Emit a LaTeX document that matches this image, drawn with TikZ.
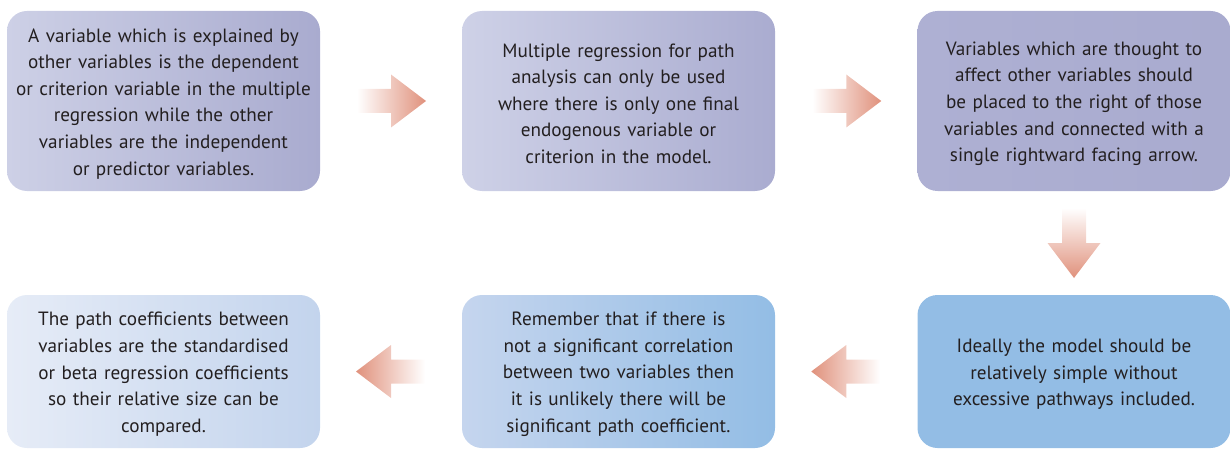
\documentclass[tikz,border=0pt]{standalone}
\usepackage{fontspec}
\setmainfont{PT Sans}
\usetikzlibrary{calc}
\definecolor{txt}{HTML}{231F20}
\definecolor{arr}{HTML}{E0917C}
\definecolor{arrlight}{HTML}{FFFFFF}
\tikzset{
  card/.style={rounded corners=20pt, minimum width=313pt, align=center,
    text width=305pt, text=txt, inner sep=0pt,
    font=\fontsize{19.2}{26.6}\selectfont,
    execute at begin node={\rule{0pt}{19pt}}},
  toprow/.style={card, minimum height=180pt},
  botrow/.style={card, minimum height=153pt},
  rarrow/.style={left color=arrlight, right color=arr, draw=none},
  larrow/.style={left color=arr, right color=arrlight, draw=none},
  darrow/.style={top color=arrlight, bottom color=arr, draw=none},
}
\begin{document}
\begin{tikzpicture}[x=1pt,y=-1pt]
\useasboundingbox (0,0) rectangle (1230,449);

% top row
\node[toprow, left color={rgb,255:red,205;green,208;blue,230}, right color={rgb,255:red,169;green,171;blue,207}] (b1) at (163.5,101)
  {A variable which is explained by\\ other variables is the dependent\\ or criterion variable in the multiple\\ regression while the other\\ variables are the independent\\ or predictor variables.};
\node[toprow, left color={rgb,255:red,206;green,209;blue,231}, right color={rgb,255:red,170;green,172;blue,208}] (b2) at (618.5,101)
  {Multiple regression for path\\ analysis can only be used\\ where there is only one final\\ endogenous variable or\\ criterion in the model.};
\node[toprow, left color={rgb,255:red,174;green,176;blue,211}, right color={rgb,255:red,169;green,171;blue,207}] (b3) at (1074,101)
  {Variables which are thought to\\ affect other variables should\\ be placed to the right of those\\ variables and connected with a\\ single rightward facing arrow.};

% bottom row
\node[botrow, fill={rgb,255:red,147;green,189;blue,229}] (b4) at (1074,371.5)
  {Ideally the model should be\\ relatively simple without\\ excessive pathways included.};
\node[botrow, left color={rgb,255:red,197;green,213;blue,238}, right color={rgb,255:red,147;green,189;blue,229}] (b5) at (618.5,371.5)
  {Remember that if there is\\ not a significant correlation\\ between two variables then\\ it is unlikely there will be\\ significant path coefficient.};
\node[botrow, left color={rgb,255:red,230;green,236;blue,247}, right color={rgb,255:red,195;green,212;blue,237}] (b6) at (163.5,371.5)
  {The path coefficients between\\ variables are the standardised\\ or beta regression coefficients\\ so their relative size can be\\ compared.};

% arrow anchors, midway between neighbouring cards
\coordinate (m12) at ($(b1.east)!0.5!(b2.west)$);
\coordinate (m23) at ($(b2.east)!0.5!(b3.west)$);
\coordinate (m34) at ($(b3.south)!0.5!(b4.north)$);
\coordinate (m45) at ($(b5.east)!0.5!(b4.west)$);
\coordinate (m56) at ($(b6.east)!0.5!(b5.west)$);

% block arrows
\begin{scope}[shift={(m12)}]
  \path[rarrow] (-34,-12) -- (0,-12) -- (0,-26.5) -- (35,0) -- (0,26.5) -- (0,12) -- (-34,12) -- cycle;
\end{scope}
\begin{scope}[shift={(m23)}]
  \path[rarrow] (-34,-12) -- (0,-12) -- (0,-26.5) -- (35,0) -- (0,26.5) -- (0,12) -- (-34,12) -- cycle;
\end{scope}
\begin{scope}[shift={(m34)}]
  \path[darrow] (-12,-35) -- (-12,0) -- (-26.5,0) -- (0,35) -- (26.5,0) -- (12,0) -- (12,-35) -- cycle;
\end{scope}
\begin{scope}[shift={(m45)}]
  \path[larrow] (34,-12) -- (0,-12) -- (0,-26.5) -- (-35,0) -- (0,26.5) -- (0,12) -- (34,12) -- cycle;
\end{scope}
\begin{scope}[shift={(m56)}]
  \path[larrow] (34,-12) -- (0,-12) -- (0,-26.5) -- (-35,0) -- (0,26.5) -- (0,12) -- (34,12) -- cycle;
\end{scope}
\end{tikzpicture}
\end{document}
